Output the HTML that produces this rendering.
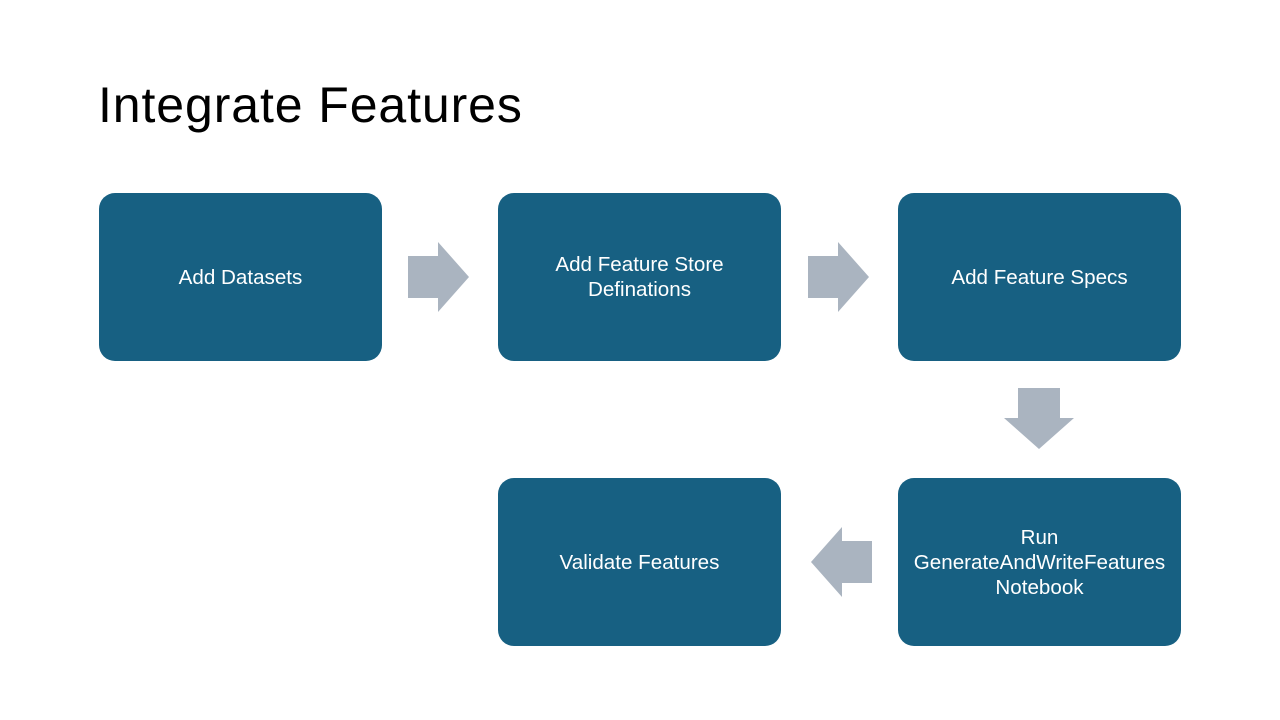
<!DOCTYPE html>
<html><head><style>
body{margin:0;width:1280px;height:720px;background:#fff;position:relative;overflow:hidden;font-family:"Liberation Sans",sans-serif}
h1{position:absolute;left:98px;top:76px;margin:0;font-weight:normal;font-size:50px;color:#000;letter-spacing:0.9px}
.b{position:absolute;background:#176082;border-radius:16px;color:#fff;font-size:20.6px;display:flex;align-items:center;justify-content:center;text-align:center;line-height:25px}
svg{position:absolute;left:0;top:0}
</style></head><body>
<h1>Integrate Features</h1>
<div class="b" style="left:99px;top:193px;width:283px;height:168px">Add Datasets</div>
<div class="b" style="left:498px;top:193px;width:283px;height:168px">Add Feature Store<br>Definations</div>
<div class="b" style="left:898px;top:193px;width:283px;height:168px">Add Feature Specs</div>
<div class="b" style="left:498px;top:478px;width:283px;height:168px">Validate Features</div>
<div class="b" style="left:898px;top:478px;width:283px;height:168px">Run<br>GenerateAndWriteFeatures<br>Notebook</div>
<svg width="1280" height="720">
<g fill="#aab4c0">
<polygon points="408,256 438,256 438,242 469,277 438,312 438,298 408,298"/>
<polygon points="808,256 838,256 838,242 869,277 838,312 838,298 808,298"/>
<polygon points="1018,388 1060,388 1060,418 1074,418 1039,449 1004,418 1018,418"/>
<polygon points="872,541 842,541 842,527 811,562 842,597 842,583 872,583"/>
</g></svg>
</body></html>
